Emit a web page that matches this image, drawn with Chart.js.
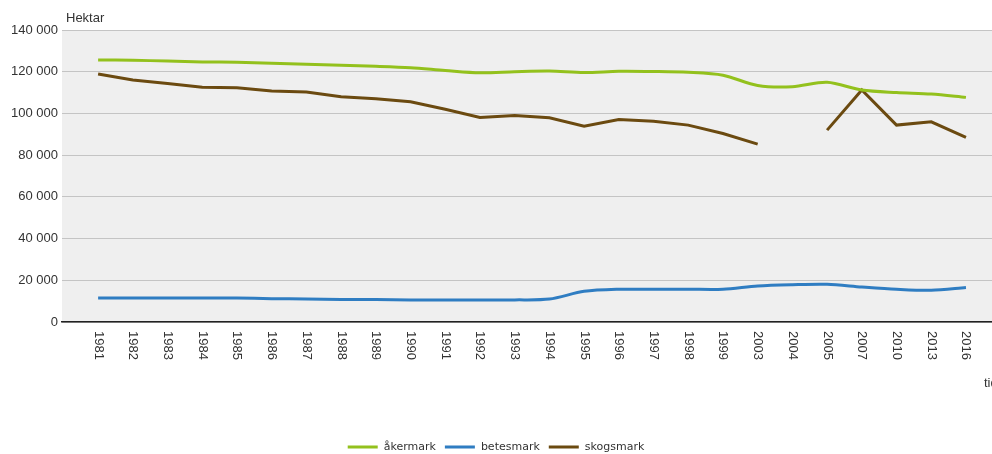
<!DOCTYPE html>
<html>
<head>
<meta charset="utf-8">
<script src="https://cdn.jsdelivr.net/npm/chart.js@4/dist/chart.umd.min.js"></script>
<style>
  html, body { margin: 0; padding: 0; background: #fff; }
  #wrap { width: 992px; height: 454px; position: relative; }
</style>
</head>
<body>
<div id="wrap"><canvas id="markChart"></canvas></div>
<script>
// År och arealer (hektar)
var years = ['1981', '1982', '1983', '1984', '1985', '1986', '1987', '1988', '1989', '1990',
    '1991', '1992', '1993', '1994', '1995', '1996', '1997', '1998', '1999', '2003',
    '2004', '2005', '2007', '2010', '2013', '2016'];

var akermark = [125600, 125500, 125100, 124700, 124500, 124000, 123600, 123100, 122600, 121900,
    120600, 119500, 120000, 120300, 119600, 120200, 120100, 119700, 118300, 113400,
    112800, 114900, 111200, 110000, 109300, 107700];

var betesmark = [11500, 11500, 11500, 11500, 11500, 11200, 11000, 10800, 10800, 10600,
    10500, 10500, 10600, 11000, 14700, 15700, 15700, 15700, 15700, 17300,
    17900, 18100, 16800, 15700, 15200, 16500];

var skogsmark = [118900, 116000, 114400, 112500, 112300, 110700, 110300, 108000, 107000, 105600,
    102000, 98100, 99000, 97900, 93900, 97100, 96200, 94400, 90400, 85300,
    null, 92000, 111200, 94400, 96000, 88500];

var yTicks = [0, 20000, 40000, 60000, 80000, 100000, 120000, 140000];

function toPoints(values) {
    return values.map(function (v, i) { return { x: i, y: v }; });
}

function formatThousands(v) {
    return String(v).replace(/\B(?=(\d{3})+(?!\d))/g, ' ');
}

var tickFont = { family: 'Liberation Sans, Arial, sans-serif', size: 13 };

// grå bakgrund i diagramytan
var plotBackground = {
    id: 'plotBackground',
    beforeDraw: function (chart) {
        var a = chart.chartArea;
        var ctx = chart.ctx;
        ctx.save();
        ctx.fillStyle = '#efefef';
        ctx.fillRect(a.left, a.top, a.right - a.left, a.bottom - a.top);
        ctx.restore();
    }
};

// årtal nedåt-roterade under x-axeln, enhet och axeltitel
var axisText = {
    id: 'axisText',
    afterDraw: function (chart) {
        var ctx = chart.ctx;
        var xs = chart.scales.x;
        var a = chart.chartArea;
        ctx.save();
        ctx.fillStyle = '#333';
        ctx.font = '13px "Liberation Sans", Arial, sans-serif';
        years.forEach(function (y, i) {
            var px = xs.getPixelForValue(i);
            ctx.save();
            ctx.translate(px, a.bottom + 9);
            ctx.rotate(Math.PI / 2);
            ctx.textAlign = 'left';
            ctx.textBaseline = 'middle';
            ctx.fillText(y, 0, 0);
            ctx.restore();
        });
        ctx.textAlign = 'left';
        ctx.textBaseline = 'middle';
        ctx.fillText('Hektar', a.left + 4, 18);
        ctx.fillText('tid', 984, 383);
        ctx.restore();
    }
};

// teckenförklaring längst ned, centrerad
var bottomLegend = {
    id: 'bottomLegend',
    afterDraw: function (chart) {
        var ctx = chart.ctx;
        var sets = chart.data.datasets;
        var lineW = 30, gapLine = 6, gapItem = 9, y = 447;
        ctx.save();
        ctx.font = '11px "DejaVu Sans", Verdana, sans-serif';
        var total = 0;
        sets.forEach(function (ds, i) {
            total += lineW + gapLine + ctx.measureText(ds.label).width;
            if (i < sets.length - 1) total += gapItem;
        });
        var x = (chart.width - total) / 2;
        sets.forEach(function (ds) {
            ctx.fillStyle = ds.borderColor;
            ctx.fillRect(x, y - 1.5, lineW, 3);
            x += lineW + gapLine;
            ctx.fillStyle = '#333';
            ctx.textAlign = 'left';
            ctx.textBaseline = 'middle';
            ctx.fillText(ds.label, x, y);
            x += ctx.measureText(ds.label).width + gapItem;
        });
        ctx.restore();
    }
};

var markChart = new Chart(document.getElementById('markChart'), {
    type: 'line',
    data: {
        datasets: [{
            label: 'åkermark',
            data: toPoints(akermark),
            borderColor: '#93c11d',
            backgroundColor: '#93c11d',
            borderWidth: 3,
            tension: 0.3,
            pointRadius: 0
        },
        {
            label: 'betesmark',
            data: toPoints(betesmark),
            borderColor: '#2f7dc2',
            backgroundColor: '#2f7dc2',
            borderWidth: 3,
            tension: 0.3,
            pointRadius: 0
        },
        {
            label: 'skogsmark',
            data: toPoints(skogsmark),
            borderColor: '#6b4a10',
            backgroundColor: '#6b4a10',
            borderWidth: 3,
            tension: 0,
            pointRadius: 0
        }]
    },
    options: {
        responsive: true,
        maintainAspectRatio: false,
        animation: false,
        layout: { padding: { top: 30, left: 0, right: 0, bottom: 0 } },
        plugins: {
            legend: { display: false },
            tooltip: { enabled: false }
        },
        scales: {
            x: {
                type: 'linear',
                min: -1.04,
                max: 25.75,
                ticks: { display: false },
                grid: { display: false },
                border: { color: '#222', width: 1.5 },
                afterFit: function (scale) { scale.height = 132; }
            },
            y: {
                min: 0,
                max: 140000,
                afterBuildTicks: function (scale) {
                    scale.ticks = yTicks.map(function (v) { return { value: v }; });
                },
                ticks: {
                    color: '#333',
                    font: tickFont,
                    padding: 4,
                    callback: function (v) { return formatThousands(v); }
                },
                grid: { color: '#c4c4c4', drawTicks: false },
                border: { display: false },
                afterFit: function (scale) { scale.width = 62; }
            }
        }
    },
    plugins: [plotBackground, axisText, bottomLegend]
});
</script>
</body>
</html>
